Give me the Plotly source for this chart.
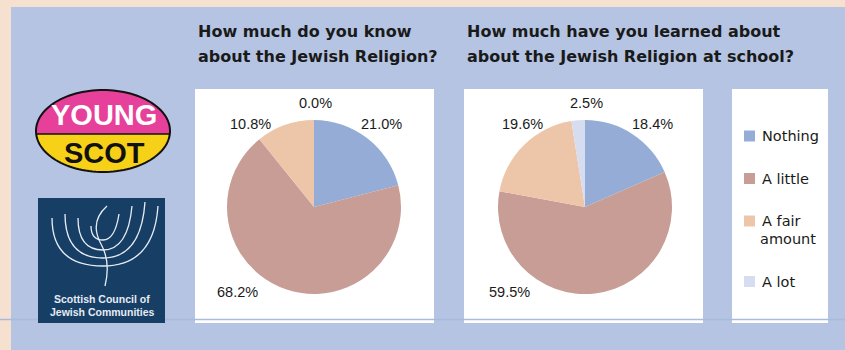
import numpy as np
import plotly.graph_objects as go

# ---------------- data ----------------
categories = ["Nothing", "A little", "A fair amount", "A lot"]
legend_labels = ["Nothing", "A little", "A fair<br>amount", "A lot"]
know_values = [21.0, 68.2, 10.8, 0.0]
school_values = [18.4, 59.5, 19.6, 2.5]
title_know = ["How much do you know", "about the Jewish Religion?"]
title_school = ["How much have you learned about", "about the Jewish Religion at school?"]

# ---------------- style ----------------
W, H = 845, 350
colors = ["#94acd6", "#c89d96", "#edc6aa", "#d7ddf0"]
PEACH = "#f6e1d0"
BLUE = "#b4c4e2"
TXT = "#1a1a1a"
R = 87
pies = [
    dict(values=know_values, cx=314, cy=207, box=(195, 434), title=title_know),
    dict(values=school_values, cx=585, cy=207, box=(464, 703), title=title_school),
]
# Excel "best fit" label slots (offset from pie centre, per category)
LABEL_SLOTS = [(67, -83), (-76, 85), (-63, -83), (1, -104)]


def X(p):
    return p / W


def Y(p):
    return 1 - p / H


fig = go.Figure()
shapes = []
annotations = []

# background panel
shapes.append(dict(type="rect", xref="paper", yref="paper", x0=X(11), x1=X(W), y0=Y(H), y1=Y(7),
                   fillcolor=BLUE, line_width=0, layer="below"))

# white boxes
for p in pies:
    bx0, bx1 = p["box"]
    shapes.append(dict(type="rect", xref="paper", yref="paper", x0=X(bx0), x1=X(bx1), y0=Y(323), y1=Y(89),
                       fillcolor="white", line_width=0, layer="below"))
shapes.append(dict(type="rect", xref="paper", yref="paper", x0=X(732), x1=X(828), y0=Y(323), y1=Y(89),
                   fillcolor="white", line_width=0, layer="below"))

# pies
for p in pies:
    cx, cy = p["cx"], p["cy"]
    fig.add_trace(go.Pie(
        labels=categories, values=p["values"], sort=False, direction="clockwise", rotation=0,
        marker=dict(colors=colors, line=dict(width=0)), textinfo="none", hoverinfo="label+percent",
        showlegend=False,
        domain=dict(x=[X(cx - R), X(cx + R)], y=[Y(cy + R), Y(cy - R)]),
    ))
    for v, (dx, dy) in zip(p["values"], LABEL_SLOTS):
        annotations.append(dict(xref="paper", yref="paper", x=X(cx + dx), y=Y(cy + dy),
                                text=f"{v:.1f}%", showarrow=False, xanchor="center", yanchor="middle",
                                font=dict(family="Liberation Sans", size=14.5, color=TXT)))
    bx0 = p["box"][0]
    for i, line in enumerate(p["title"]):
        annotations.append(dict(xref="paper", yref="paper", x=X(bx0 + 1), y=Y(32 + 24 * i), text=f"<b>{line}</b>",
                                showarrow=False, xanchor="left", yanchor="middle",
                                font=dict(family="DejaVu Sans", size=16, color=TXT)))

# legend
ly = 136
for lab, col in zip(legend_labels, colors):
    shapes.append(dict(type="rect", xref="paper", yref="paper", x0=X(744), x1=X(755), y0=Y(ly + 5.5), y1=Y(ly - 5.5),
                       fillcolor=col, line_width=0))
    lines = lab.split("<br>")
    for j, t in enumerate(lines):
        annotations.append(dict(xref="paper", yref="paper", x=X(760 if j == 0 else 758), y=Y(ly + 18 * j), text=t,
                                showarrow=False, xanchor="left", yanchor="middle",
                                font=dict(family="DejaVu Sans", size=14.5, color=TXT)))
    ly += 42.5 + 18 * (len(lines) - 1)

# horizontal rule
shapes.append(dict(type="line", xref="paper", yref="paper", x0=0, x1=1, y0=Y(319.5), y1=Y(319.5),
                   line=dict(color="#a9bbdd", width=1.5)))

# ---- Young Scot logo ----
ecx, ecy, erx, ery = 103, 131, 67, 41
t = np.linspace(0, 2 * np.pi, 121)
ex, ey = ecx + erx * np.cos(t), ecy + ery * np.sin(t)
path_full = "M " + " L ".join(f"{X(a):.5f},{Y(b):.5f}" for a, b in zip(ex, ey)) + " Z"
shapes.append(dict(type="path", xref="paper", yref="paper", path=path_full, fillcolor="#f7d117", line_width=0))
div = 134
sin_d = (div - ecy) / ery
a0 = np.arcsin(sin_d)
tt = np.linspace(np.pi - a0, 2 * np.pi + a0, 90)
ux, uy = ecx + erx * np.cos(tt), ecy + ery * np.sin(tt)
path_top = "M " + " L ".join(f"{X(a):.5f},{Y(b):.5f}" for a, b in zip(ux, uy)) + " Z"
shapes.append(dict(type="path", xref="paper", yref="paper", path=path_top, fillcolor="#e6409a", line_width=0))
shapes.append(dict(type="line", xref="paper", yref="paper", x0=X(ecx - erx * np.cos(a0)), x1=X(ecx + erx * np.cos(a0)),
                   y0=Y(div), y1=Y(div), line=dict(color="#111", width=1.5)))
shapes.append(dict(type="path", xref="paper", yref="paper", path=path_full, line=dict(color="#111", width=2)))
annotations.append(dict(xref="paper", yref="paper", x=X(104), y=Y(115), text="<b>YOUNG</b>", showarrow=False,
                        xanchor="center", yanchor="middle",
                        font=dict(family="Liberation Sans", size=29, color="white")))
annotations.append(dict(xref="paper", yref="paper", x=X(104), y=Y(153), text="<b>SCOT</b>", showarrow=False,
                        xanchor="center", yanchor="middle",
                        font=dict(family="Liberation Sans", size=29, color="#111")))

# ---- Scottish Council of Jewish Communities logo ----
shapes.append(dict(type="rect", xref="paper", yref="paper", x0=X(38), x1=X(165), y0=Y(323), y1=Y(198),
                   fillcolor="#173f66", line_width=0))
mx = 103
for a, top, bot in [(12, 226, 240), (25, 218, 250), (38, 214, 258), (51, 218, 266)]:
    pth = (f"M {X(mx - a):.5f},{Y(top):.5f} Q {X(mx - a):.5f},{Y(bot):.5f} {X(mx):.5f},{Y(bot):.5f} "
           f"Q {X(mx + a):.5f},{Y(bot):.5f} {X(mx + a + 4):.5f},{Y(top - 12):.5f}")
    shapes.append(dict(type="path", xref="paper", yref="paper", path=pth, line=dict(color="#e8eef5", width=1.3)))
stem = (f"M {X(mx + 4):.5f},{Y(206):.5f} Q {X(mx - 14):.5f},{Y(222):.5f} {X(mx - 2):.5f},{Y(244):.5f} "
        f"Q {X(mx + 8):.5f},{Y(262):.5f} {X(mx + 2):.5f},{Y(286):.5f}")
shapes.append(dict(type="path", xref="paper", yref="paper", path=stem, line=dict(color="#e8eef5", width=1.3)))
for i, line in enumerate(["Scottish Council of", "Jewish Communities"]):
    annotations.append(dict(xref="paper", yref="paper", x=X(102), y=Y(299 + 13 * i), text=f"<b>{line}</b>",
                            showarrow=False, xanchor="center", yanchor="middle",
                            font=dict(family="Liberation Sans", size=10.5, color="#e6ecf4")))

fig.update_layout(
    width=W, height=H, margin=dict(l=0, r=0, t=0, b=0),
    paper_bgcolor=PEACH, plot_bgcolor=PEACH,
    shapes=shapes, annotations=annotations, showlegend=False,
)

fig.write_html("out.html")
